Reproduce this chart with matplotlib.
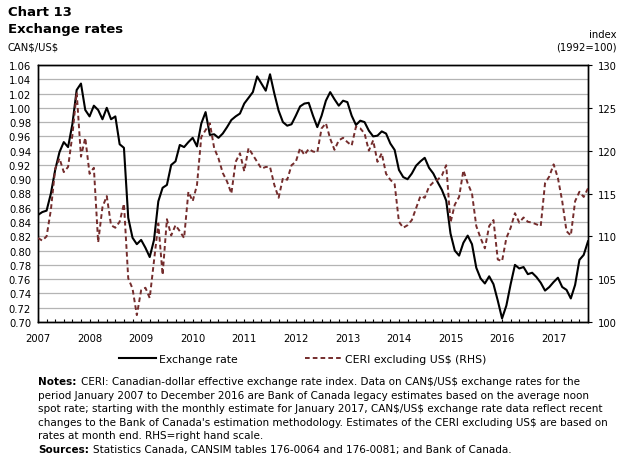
import numpy as np
from matplotlib import pyplot as plt
from matplotlib.lines import Line2D

# monthly values, January 2007 to September 2017
exchange_rate = [
    0.850, 0.854, 0.856, 0.880, 0.913, 0.938, 0.952, 0.945, 0.977, 1.025, 1.034, 0.997,
    0.988, 1.003, 0.997, 0.984, 1.000, 0.984, 0.988, 0.949, 0.944, 0.846, 0.818, 0.809,
    0.815, 0.804, 0.791, 0.815, 0.869, 0.888, 0.892, 0.920, 0.925, 0.948, 0.945, 0.952,
    0.958, 0.946, 0.978, 0.994, 0.962, 0.963, 0.958, 0.964, 0.973, 0.983, 0.988, 0.992,
    1.006, 1.014, 1.022, 1.044, 1.034, 1.024, 1.047, 1.020, 0.996, 0.980, 0.975, 0.977,
    0.989, 1.002, 1.006, 1.007, 0.989, 0.973, 0.989, 1.010, 1.022, 1.012, 1.003, 1.010,
    1.008, 0.989, 0.976, 0.982, 0.980, 0.968, 0.960, 0.961, 0.967, 0.964, 0.950, 0.941,
    0.913, 0.903, 0.900, 0.908, 0.919, 0.925, 0.930, 0.916, 0.908, 0.896, 0.885, 0.870,
    0.824, 0.800, 0.793, 0.811, 0.821, 0.809, 0.776, 0.761, 0.754, 0.764, 0.753, 0.730,
    0.705, 0.723, 0.753, 0.780, 0.775, 0.777, 0.767, 0.769, 0.763, 0.755, 0.744, 0.749,
    0.756, 0.762, 0.749, 0.745, 0.733, 0.752, 0.787, 0.794, 0.813,
]

ceri_ex_us = [
    109.8, 109.5, 110.0, 113.1, 117.9, 119.1, 117.5, 118.1, 121.8, 126.8, 119.3, 121.5,
    117.3, 118.0, 109.3, 113.4, 114.7, 111.3, 111.0, 111.7, 113.8, 105.1, 103.9, 100.8,
    103.7, 104.0, 102.8, 107.2, 111.5, 105.5, 112.0, 110.1, 111.3, 110.6, 109.8, 115.2,
    114.1, 116.0, 121.6, 122.4, 123.2, 120.3, 119.1, 117.4, 116.4, 115.0, 118.7, 119.7,
    117.6, 120.3, 119.5, 118.7, 117.9, 118.1, 118.1, 116.0, 114.5, 116.8, 116.6, 118.3,
    118.7, 120.3, 119.5, 120.2, 119.9, 119.8, 122.6, 123.2, 121.4, 120.1, 121.2, 121.5,
    121.0, 120.6, 122.8, 122.6, 122.0, 120.0, 121.2, 118.7, 119.7, 117.3, 116.6, 116.1,
    111.7, 111.0, 111.3, 111.9, 113.3, 114.7, 114.5, 115.8, 116.3, 116.6, 117.1, 118.3,
    111.6, 113.7, 114.6, 117.7, 116.2, 115.0, 111.2, 109.8, 108.6, 111.2, 111.9, 107.3,
    107.1, 109.8, 111.0, 112.7, 111.6, 112.2, 111.7, 111.6, 111.4, 111.2, 116.2, 117.0,
    118.4, 116.8, 114.1, 110.6, 110.1, 114.1, 115.2, 114.6, 115.6,
]

years = [str(y) for y in range(2007, 2018)]
left_ticks = np.arange(0.70, 1.0601, 0.02)
right_ticks = [100, 105, 110, 115, 120, 125, 130]

notes = [
    "CERI: Canadian-dollar effective exchange rate index. Data on CAN$/US$ exchange rates for the",
    "period January 2007 to December 2016 are Bank of Canada legacy estimates based on the average noon",
    "spot rate; starting with the monthly estimate for January 2017, CAN$/US$ exchange rate data reflect recent",
    "changes to the Bank of Canada's estimation methodology. Estimates of the CERI excluding US$ are based on",
    "rates at month end. RHS=right hand scale.",
]
sources = "Statistics Canada, CANSIM tables 176-0064 and 176-0081; and Bank of Canada."

plt.rcParams['font.family'] = ['DejaVu Sans']
fs = 7.2
fs_notes = 7.5
dash_col = '#742c2c'

fig = plt.figure(figsize=(6.24, 4.6), dpi=100)
ax = fig.add_axes([38 / 624, 1 - 323 / 460, 550 / 624, 257 / 460])
ax2 = ax.twinx()

x = np.arange(len(exchange_rate))
ax.plot(x, exchange_rate, color='black', lw=1.5, zorder=3)
ax2.plot(x, ceri_ex_us, color=dash_col, lw=1.4, dashes=(2.4, 1.6), zorder=3)

ax.set_xlim(0, len(exchange_rate) - 1)
ax.set_ylim(0.70, 1.06)
ax2.set_ylim(100, 130)

ax.set_yticks(left_ticks)
ax.set_yticklabels(["%.2f" % v for v in left_ticks], fontsize=fs)
ax.tick_params(axis='y', length=0, pad=5)
ax.grid(axis='y', color='#b4b4b4', lw=0.9)
ax.set_axisbelow(True)

xt = list(range(0, len(exchange_rate), 2))
ax.set_xticks(xt)
ax.set_xticklabels([years[t // 12] if t % 12 == 0 else '' for t in xt], fontsize=fs)
ax.tick_params(axis='x', direction='in', length=2.5, width=0.8, pad=8)

ax2.set_yticks(right_ticks)
ax2.set_yticklabels([str(v) for v in right_ticks], fontsize=fs)
ax2.tick_params(axis='y', direction='out', length=3, width=0.8, pad=4)

for a in (ax, ax2):
    for s in a.spines.values():
        s.set_linewidth(1.0)
        s.set_color('black')

fig.text(8 / 624, 1 - 12 / 460, "Chart 13", fontsize=9.5, fontweight='bold', va='center')
fig.text(8 / 624, 1 - 29 / 460, "Exchange rates", fontsize=9.5, fontweight='bold', va='center')
fig.text(8 / 624, 1 - 48 / 460, "CAN$/US$", fontsize=fs, va='center', parse_math=False)
fig.text(617 / 624, 1 - 35 / 460, "index", fontsize=fs, va='center', ha='right')
fig.text(617 / 624, 1 - 48 / 460, "(1992=100)", fontsize=fs, va='center', ha='right')

handles = [Line2D([], [], color='black', lw=1.5),
           Line2D([], [], color=dash_col, lw=1.4, dashes=(2.4, 1.6))]
fig.legend(handles, ["Exchange rate", "CERI excluding US$ (RHS)"], loc='center',
           bbox_to_anchor=(303 / 624, 1 - 360 / 460), ncol=2, frameon=False,
           fontsize=7.8, handlelength=3.4, handletextpad=0.3, columnspacing=6.2)

y0 = 1 - 382 / 460
step = 13.6 / 460
t = fig.text(38 / 624, y0, "Notes:", fontsize=fs_notes, fontweight='bold', va='center')
plt.annotate(notes[0], xy=(1, 0.5), xycoords=t, xytext=(3, 0), textcoords='offset points',
             fontsize=fs_notes, va='center', parse_math=False)
for k, line in enumerate(notes[1:], 1):
    fig.text(38 / 624, y0 - k * step, line, fontsize=fs_notes, va='center', parse_math=False)
t = fig.text(38 / 624, y0 - 5 * step, "Sources:", fontsize=fs_notes, fontweight='bold', va='center')
plt.annotate(sources, xy=(1, 0.5), xycoords=t, xytext=(3, 0), textcoords='offset points',
             fontsize=fs_notes, va='center', parse_math=False)

plt.savefig("out.png", dpi=100)
